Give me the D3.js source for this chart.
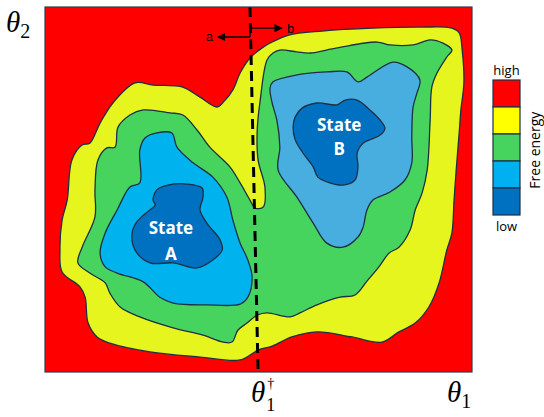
<!DOCTYPE html>
<html><head><meta charset="utf-8">
<script src="https://cdn.jsdelivr.net/npm/d3@7"></script>
<style>body{margin:0;background:#fff}svg{display:block}</style>
</head><body>
<script>
// Free-energy levels over (θ1, θ2), each outline given in coordinate units 0–100.
const yellowLevel = [[4.0,27.4],[3.5,33.4],[4.0,41.6],[5.2,47.1],[6.3,58.1],[8.7,62.2],[10.5,62.7],[12.9,68.2],[15.9,73.7],[21.1,79.2],[25.3,78.6],[32.1,78.1],[36.3,75.3],[40.3,72.6],[42.2,74.5],[44.0,77.3],[45.7,81.9],[48.0,86.0],[51.1,89.0],[53.2,90.4],[57.1,92.3],[64.9,93.4],[76.6,94.2],[88.3,94.5],[95.3,94.2],[97.0,92.9],[97.7,88.2],[98.1,79.2],[97.4,71.8],[97.0,65.5],[96.3,55.3],[95.8,47.1],[95.3,38.1],[94.1,33.4],[92.3,24.4],[89.9,17.8],[86.7,13.4],[82.9,11.0],[78.9,8.2],[71.9,9.6],[63.7,11.0],[57.8,9.6],[53.2,7.1],[49.9,6.0],[45.7,3.3],[36.3,4.1],[24.6,5.5],[15.2,7.9],[12.2,9.6],[10.1,13.4],[9.4,20.5],[8.2,23.3]];

const greenLevel = [[7.7,29.9],[8.7,34.2],[11.7,42.5],[11.7,49.9],[12.4,58.1],[14.5,61.4],[16.4,61.6],[17.1,67.1],[19.9,70.4],[23.0,71.8],[29.3,71.0],[32.3,70.4],[35.6,66.3],[38.6,61.6],[43.3,56.2],[45.7,51.8],[48.0,47.1],[49.2,44.9],[51.1,45.2],[51.5,50.7],[49.9,58.1],[49.7,66.3],[50.4,74.5],[52.0,85.5],[53.4,87.4],[55.0,88.2],[59.0,87.7],[62.1,87.4],[68.4,88.8],[77.8,90.4],[80.8,89.6],[86.2,89.6],[90.2,91.0],[93.2,90.1],[95.3,88.2],[94.1,86.3],[91.8,81.9],[90.6,78.1],[90.2,69.0],[89.5,55.3],[88.3,49.0],[86.7,44.4],[85.5,38.9],[82.9,34.2],[80.6,32.6],[78.2,28.8],[75.4,24.9],[72.6,21.1],[69.1,20.5],[63.7,18.4],[59.7,16.2],[57.4,15.1],[52.0,16.2],[49.7,15.6],[47.3,13.4],[45.2,11.5],[43.8,8.2],[41.7,8.2],[37.0,10.1],[30.0,12.1],[22.2,15.1],[17.6,17.8],[15.2,21.6],[14.1,24.4],[10.5,27.1]];

const basinAOuter = [[12.9,32.6],[14.1,38.1],[16.9,44.4],[19.9,50.7],[22.2,51.8],[22.2,60.8],[23.4,64.1],[26.2,65.5],[29.7,65.5],[30.9,61.6],[34.7,57.3],[39.3,53.4],[42.6,47.9],[44.0,41.6],[45.7,35.3],[47.5,30.7],[48.5,26.0],[47.5,20.5],[45.7,18.6],[37.9,18.4],[30.0,18.9],[26.9,20.5],[23.0,24.7],[16.9,27.1],[14.1,28.8]];

const basinACore = [[25.3,47.1],[26.2,49.9],[28.8,51.2],[33.3,51.5],[36.8,50.4],[37.0,47.9],[36.3,44.4],[37.9,40.8],[41.0,36.2],[41.5,33.4],[39.3,30.7],[35.6,28.5],[30.0,29.9],[24.6,29.9],[21.1,33.4],[20.4,38.1],[21.5,41.1],[23.9,43.8],[25.8,45.8]];

const basinBOuter = [[52.7,77.8],[53.4,79.5],[59.0,81.4],[66.0,82.2],[70.7,82.2],[73.3,79.5],[75.4,80.8],[81.5,84.9],[84.8,83.6],[87.8,80.0],[87.1,76.4],[86.2,72.6],[85.9,64.4],[85.9,57.3],[84.3,52.6],[80.8,49.3],[76.8,47.1],[75.4,44.4],[74.5,39.7],[73.3,37.0],[69.8,34.2],[66.0,35.3],[62.8,40.8],[59.0,47.9],[54.6,55.3],[55.0,61.6],[54.3,69.0],[53.2,73.7]];

const basinBCore = [[58.6,69.9],[60.2,72.3],[63.7,73.7],[68.4,73.2],[70.3,74.5],[73.1,74.5],[76.1,71.8],[78.5,69.0],[79.6,66.8],[78.5,64.9],[74.5,62.7],[73.1,60.0],[73.3,56.2],[72.6,52.6],[69.8,51.2],[66.7,51.8],[63.9,53.4],[62.8,56.2],[60.4,60.0],[58.6,63.6],[58.1,67.1]];

const stateLabels = [
  {lines: ["State", "A"], t1: 29.5, t2: [39.7, 32.6]},
  {lines: ["State", "B"], t1: 68.9, t2: [67.9, 61.1]}
];

// Transition divider θ1† (slightly tilted) and the a/b direction bracket.
const dividerT1 = {top: 48.0, bottom: 49.9};
const bracketA = {from: 48.0, to: 40.5, t2: 91.8};
const bracketB = {from: 48.0, to: 55.5, t2: 94.2};

const legendLabels = ["high", "low"];
const legendColors = ["#ff0000", "#ffff00", "#47d45e", "#00b0f0", "#0070c0"];

const W = 544, H = 417;
const frame = {left: 45, right: 472, top: 7, bottom: 372};
const x = d3.scaleLinear().domain([0, 100]).range([frame.left, frame.right]);
const y = d3.scaleLinear().domain([0, 100]).range([frame.bottom, frame.top]);

const svg = d3.select("body").append("svg").attr("width", W).attr("height", H);

const outline = d3.line().x(d => x(d[0])).y(d => y(d[1]))
  .curve(d3.curveCatmullRomClosed.alpha(0.5));

const edge = "#1d3045";

svg.append("rect")
  .attr("x", x(0)).attr("y", y(100))
  .attr("width", x(100) - x(0)).attr("height", y(0) - y(100))
  .attr("fill", "#ff0000");

const layers = [
  {pts: yellowLevel, fill: "#e6f51d"},
  {pts: greenLevel, fill: "#47d45e"},
  {pts: basinAOuter, fill: "#00b2ee"},
  {pts: basinBOuter, fill: "#48aedf"},
  {pts: basinACore, fill: "#0070c0"},
  {pts: basinBCore, fill: "#0070c0"}
];
svg.append("g").selectAll("path").data(layers).join("path")
  .attr("d", d => outline(d.pts))
  .attr("fill", d => d.fill)
  .attr("stroke", edge).attr("stroke-width", 1.3)
  .attr("stroke-linejoin", "round");

const lab = svg.append("g").attr("font-family", "'Open Sans', 'Liberation Sans', sans-serif")
  .attr("font-weight", 700).attr("font-size", 17).attr("fill", "#fff")
  .attr("text-anchor", "middle").attr("dominant-baseline", "central");
stateLabels.forEach(s => {
  s.lines.forEach((t, i) => {
    lab.append("text").attr("x", x(s.t1)).attr("y", y(s.t2[i])).text(t);
  });
});

// dashed divider
svg.append("line")
  .attr("x1", x(dividerT1.top)).attr("y1", y(100))
  .attr("x2", x(dividerT1.bottom)).attr("y2", y(0))
  .attr("stroke", "#000").attr("stroke-width", 3)
  .attr("stroke-dasharray", "10,6");

// arrowheads
const defs = svg.append("defs");
defs.append("marker").attr("id", "head").attr("viewBox", "0 0 10 10")
  .attr("refX", 9).attr("refY", 5).attr("markerWidth", 6).attr("markerHeight", 6)
  .attr("orient", "auto")
  .append("path").attr("d", "M0,0L10,5L0,10Z").attr("fill", "#000");

svg.append("path")
  .attr("d", `M${x(bracketA.from)},${y(bracketA.t2)}H${x(bracketA.to)}`)
  .attr("stroke", "#000").attr("stroke-width", 1.4).attr("fill", "none")
  .attr("marker-end", "url(#head)");
svg.append("path")
  .attr("d", `M${x(bracketA.from)},${y(bracketA.t2)}V${y(bracketB.t2)}H${x(bracketB.to)}`)
  .attr("stroke", "#000").attr("stroke-width", 1.4).attr("fill", "none")
  .attr("marker-end", "url(#head)");
const ab = svg.append("g").attr("font-family", "'Liberation Sans', Arial, sans-serif")
  .attr("font-size", 13).attr("fill", "#000").attr("dominant-baseline", "central");
ab.append("text").attr("x", x(bracketA.to) - 5).attr("y", y(bracketA.t2)).attr("text-anchor", "end").text("a");
ab.append("text").attr("x", x(bracketB.to) + 5).attr("y", y(bracketB.t2)).attr("text-anchor", "start").text("b");

// frame
svg.append("rect")
  .attr("x", x(0)).attr("y", y(100))
  .attr("width", x(100) - x(0)).attr("height", y(0) - y(100))
  .attr("fill", "none").attr("stroke", "#2c3e50").attr("stroke-width", 1.2);

// axis symbols
const sym = svg.append("g").attr("font-family", "'Liberation Serif', 'DejaVu Serif', serif").attr("fill", "#000");
function theta(px, py, sub, dagger) {
  const t = sym.append("text").attr("x", px).attr("y", py).attr("font-size", 29);
  t.append("tspan").attr("font-style", "italic").text("θ");
  if (dagger) {
    t.append("tspan").attr("font-size", 14).attr("dy", -14).attr("dx", 2).text("†");
    t.append("tspan").attr("font-size", 18).attr("dy", 23).attr("dx", -8).text(sub);
  } else {
    t.append("tspan").attr("font-size", 20).attr("dy", 6).text(sub);
  }
}
theta(6, 32, "2", false);
theta(251, 402, "1", true);
theta(447, 402, "1", false);

// legend
const lg = {x: 493, y: 80, w: 27, h: 27};
svg.append("g").selectAll("rect").data(legendColors).join("rect")
  .attr("x", lg.x).attr("y", (d, i) => lg.y + i * lg.h)
  .attr("width", lg.w).attr("height", lg.h)
  .attr("fill", d => d).attr("stroke", edge).attr("stroke-width", 1.2);
const lt = svg.append("g").attr("font-family", "'Open Sans', 'Liberation Sans', sans-serif")
  .attr("font-size", 13).attr("fill", "#000").attr("text-anchor", "middle");
lt.append("text").attr("x", lg.x + lg.w / 2).attr("y", lg.y - 5).text(legendLabels[0]);
lt.append("text").attr("x", lg.x + lg.w / 2).attr("y", lg.y + 5 * lg.h + 16).text(legendLabels[1]);
lt.append("text").attr("transform", `translate(${lg.x + lg.w + 14},${lg.y + 2.6 * lg.h}) rotate(-90)`)
  .attr("dominant-baseline", "central").attr("font-size", 14).text("Free energy");
</script>
</body></html>
